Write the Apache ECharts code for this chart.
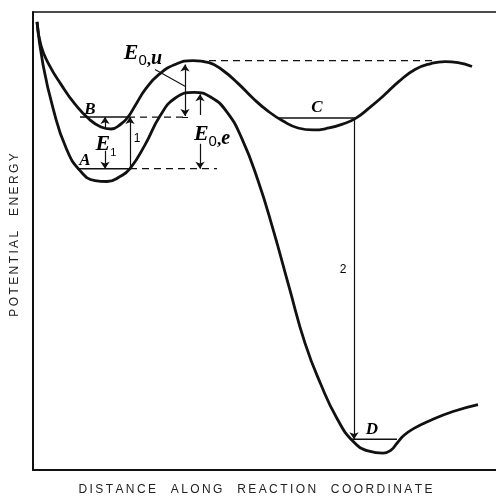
<!DOCTYPE html>
<html>
<head>
<meta charset="utf-8">
<title>Potential energy along reaction coordinate</title>
<script src="https://cdn.jsdelivr.net/npm/echarts@6/dist/echarts.min.js"></script>
<style>
html, body { margin: 0; padding: 0; background: #fff; }
#chart { width: 496px; height: 501px; }
</style>
</head>
<body>
<div id="chart"></div>
<script>
// [distance, energy]
var upperCurve = [[4,452],[8,428],[16,409],[28,389],[42,369],[56,354],[68,346],[78,344],[88,349],[95,356],
    [103,369],[113,385],[126,399],[142,409],[160,413],[176,411],[190,403],[205,390],[220,375],[235,362],
    [250,352],[265,345],[280,343],[296,345],[310,349],[323,355],[336,365],[350,377],[366,392],[382,404],
    [398,410],[412,412],[425,411],[439,407]];
var lowerCurve = [[4,452],[10,409],[20,365],[33,325],[47,302],[62,292],[74,291],[87,296],[97,304],[112,328],
    [127,357],[142,375],[161,381],[178,376],[194,361],[209,334],[225,292],[240,243],[256,185],[272,128],
    [288,86],[304,52],[320,29],[336,19],[350,17],[358,20],[364,27],[371,35],[381,42],[395,49],[420,59],
    [445,66]];

// energy levels (solid) and reference levels (dashed)
var levelA = [[44,304],[97,304]];
var levelB = [[47,356],[95,356]];
var levelC = [[244,355],[324,355]];
var levelD = [[317,31],[364,31]];
var dashA = [[97,304],[184,304]];
var dashB = [[95,356],[154,356]];
var dashTop = [[164,413],[399,413]];

// arrows: from -> to (head at "to")
var arrows = [
    [[97,304],[97,356]],     // transition 1
    [[72,344],[72,356]],     // E1 up
    [[72,322],[72,304]],     // E1 down
    [[167,358],[167,379]],   // E0,e up
    [[167,329],[167,304]],   // E0,e down
    [[321,355],[321,31]]     // transition 2
];
var doubleArrows = [[[152,357],[152,409]]];      // E0,u
var plainLines = [[[122,404],[152,387]], [[149,356],[155,356]]];

// text labels
var letterNames = ['A', 'B', 'C', 'D'];
var letterAt = [[52,312],[57,364],[284,366],[339,41]];
var energyNames = ['{e|E}{n|1}', '{e|E}{d|0}{c|,}{i|u}', '{e|E}{d|0}{c|,}{i|e}'];
var energyAt = [[73,327],[110,418],[179,337]];
var stepNames = ['1', '2'];
var stepAt = [[104,334],[310,202]];

var xName = 'DISTANCE ALONG REACTION COORDINATE';
var yName = 'POTENTIAL ENERGY';

function spaced(s) {
    return s.split(' ').map(function (w) { return w.split('').join('\u2009'); }).join('\u2009   \u2009');
}

var ink = '#111';

function segSeries(pts, width, dashed) {
    return {
        type: 'line', data: pts, symbol: 'none', silent: true,
        lineStyle: { color: ink, width: width, type: dashed ? [7, 5] : 'solid' }
    };
}

function textSeries(names, at, style) {
    return {
        type: 'scatter', symbolSize: 0, silent: true,
        data: at.map(function (p, i) { return { value: p, name: names[i] }; }),
        itemStyle: { color: ink, opacity: 1 },
        label: Object.assign({
            show: true, position: 'inside', color: '#000', textBorderWidth: 0,
            formatter: function (p) { return p.name; }
        }, style)
    };
}

var chart = echarts.init(document.getElementById('chart'));

var serif = { fontFamily: 'Liberation Serif', fontStyle: 'italic', fontWeight: 'bold', color: '#000' };

var series = [
    Object.assign(segSeries(upperCurve, 2.8), { smooth: 0.5 }),
    Object.assign(segSeries(lowerCurve, 2.8), { smooth: 0.5 }),
    segSeries(levelA, 1.5), segSeries(levelB, 1.5), segSeries(levelC, 1.5), segSeries(levelD, 1.5),
    segSeries(dashA, 1.3, true), segSeries(dashB, 1.3, true), segSeries(dashTop, 1.3, true),
    {
        type: 'lines', coordinateSystem: 'cartesian2d', silent: true,
        symbol: ['none', 'arrow'], symbolSize: 7,
        lineStyle: { color: ink, width: 1.2, opacity: 1 },
        data: arrows.map(function (a) { return { coords: a }; })
    },
    {
        type: 'lines', coordinateSystem: 'cartesian2d', silent: true,
        symbol: ['arrow', 'arrow'], symbolSize: 7,
        lineStyle: { color: ink, width: 1.2, opacity: 1 },
        data: doubleArrows.map(function (a) { return { coords: a }; })
    },
    {
        type: 'lines', coordinateSystem: 'cartesian2d', silent: true,
        symbol: 'none',
        lineStyle: { color: ink, width: 1.1, opacity: 1 },
        data: plainLines.map(function (a) { return { coords: a }; })
    },
    textSeries(letterNames, letterAt, Object.assign({ fontSize: 17 }, serif)),
    textSeries(energyNames, energyAt, {
        rich: {
            e: Object.assign({ fontSize: 22, lineHeight: 26, verticalAlign: 'top' }, serif),
            n: { fontFamily: 'Liberation Sans', fontSize: 11, lineHeight: 11, verticalAlign: 'bottom', color: '#000' },
            d: { fontFamily: 'Liberation Sans', fontSize: 15, lineHeight: 14, verticalAlign: 'bottom', color: '#000' },
            c: Object.assign({ fontSize: 17, lineHeight: 16, verticalAlign: 'bottom' }, serif, { fontStyle: 'normal' }),
            i: Object.assign({ fontSize: 20, lineHeight: 18, verticalAlign: 'bottom' }, serif)
        }
    }),
    textSeries(stepNames, stepAt, { fontFamily: 'Liberation Sans', fontSize: 12 })
];

chart.setOption({
    animation: false,
    backgroundColor: '#fff',
    grid: { left: 33, right: 0, top: 12, bottom: 27 },
    xAxis: [{
        type: 'value', min: 0, max: 463,
        axisLine: { show: true, lineStyle: { color: ink, width: 2 } },
        axisTick: { show: false }, axisLabel: { show: false }, splitLine: { show: false },
        name: spaced(xName), nameLocation: 'middle', nameGap: 14,
        nameTextStyle: { fontFamily: 'Liberation Sans', fontSize: 12, color: '#222', padding: [0, 18, 0, 0] }
    }, {
        type: 'value', position: 'top', min: 0, max: 463,
        axisLine: { show: true, lineStyle: { color: ink, width: 1.5 } },
        axisTick: { show: false }, axisLabel: { show: false }, splitLine: { show: false }
    }],
    yAxis: {
        type: 'value', min: 0, max: 462,
        axisLine: { show: true, lineStyle: { color: ink, width: 2 } },
        axisTick: { show: false }, axisLabel: { show: false }, splitLine: { show: false },
        name: spaced(yName), nameLocation: 'middle', nameGap: 12, nameRotate: 90,
        nameTextStyle: { fontFamily: 'Liberation Sans', fontSize: 12, color: '#222', padding: [0, 0, 0, 12] }
    },
    series: series
});
</script>
</body>
</html>
